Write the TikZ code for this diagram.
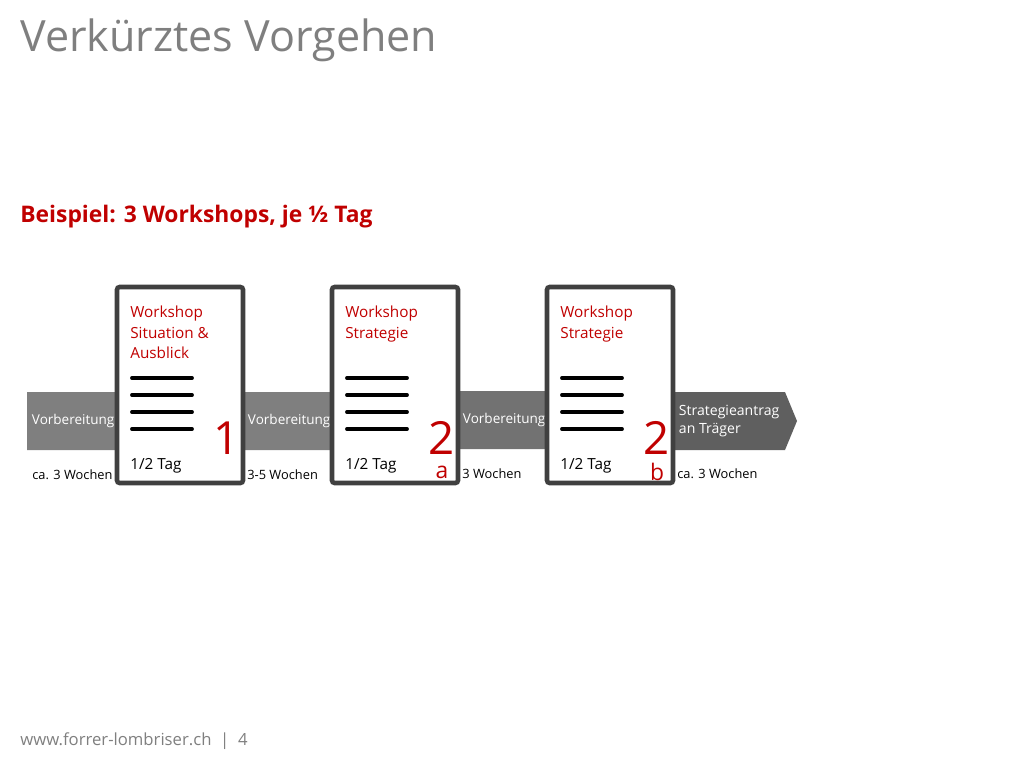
\documentclass[tikz,border=0pt]{standalone}
\usepackage{fontspec}
\setmainfont{Open Sans}
\usepackage{tikz}
\definecolor{fltred}{HTML}{C00000}
\definecolor{fltgray}{HTML}{7F7F7F}
\definecolor{fltdark}{HTML}{404040}
\tikzset{
  chev/.style={fill=#1, draw=none},
  chevtext/.style={text=white, font=\fontsize{7.7}{10}\selectfont, anchor=west, align=left, inner sep=1.5pt},
  wsbox/.style={draw=fltdark, line width=2.6pt, rounded corners=1.5pt, fill=white},
  wstitle/.style={text=fltred, font=\fontsize{8.7}{11.4}\selectfont, anchor=north west, align=left, inner sep=0pt},
  wsnum/.style={text=fltred, font=\fontsize{26}{26}\selectfont, inner sep=0pt},
  wsdur/.style={font=\fontsize{8.7}{10}\selectfont, anchor=west, inner sep=0pt},
  weeks/.style={font=\fontsize{7.3}{9}\selectfont, anchor=west, inner sep=0pt},
  bar/.style={line width=2.2pt, line cap=round}
}
\begin{document}
\begin{tikzpicture}[x=0.02cm, y=-0.02cm]
  \useasboundingbox (0,0) rectangle (1024,768);
  \node[anchor=west, text=fltgray, font=\fontsize{24.5}{28}\selectfont, inner sep=0pt] (title) at (20,40) {Verkürztes Vorgehen};
  \node[anchor=west, text=fltred, font=\bfseries\fontsize{13}{15}\selectfont, inner sep=0pt] (sub) at (20,217) {Beispiel: 3 Workshops, je ½ Tag};

  % chevrons
  \fill[chev=fltgray] (27,392) -- (117,392) -- (128,421) -- (117,450) -- (27,450) -- cycle;
  \fill[chev=fltgray] (243,392) -- (333,392) -- (344,421) -- (333,450) -- (243,450) -- cycle;
  \fill[chev=fltgray!90!black] (458,391) -- (548,391) -- (559,420) -- (548,449) -- (458,449) -- cycle;
  \fill[chev=fltgray!75!black] (673,392) -- (785,392) -- (797,421) -- (785,450) -- (673,450) -- cycle;
  \node[chevtext] (v1) at (29,421) {Vorbereitung};
  \node[chevtext] (v2) at (245,421) {Vorbereitung};
  \node[chevtext] (v3) at (460,420) {Vorbereitung};
  \node[chevtext, font=\fontsize{8}{10.5}\selectfont] (v4) at (676,421) {Strategieantrag\\an Träger};

  % workshops
  \foreach \x/\t/\n/\s [count=\i] in {117/{Workshop\\Situation \&\\Ausblick}/1/{}, 332/{Workshop\\Strategie}/2/a, 547/{Workshop\\Strategie}/2/b} {
    \draw[wsbox] (\x,287) rectangle ++(126,196);
    \node[wstitle] (ws\i) at (\x+13,306) {\t};
    \foreach \y in {378,395,412,429}
      \draw[bar] (\x+15,\y) -- ++(60,0);
    \node[wsnum] (n\i) at (\x+110,438) {\n};
    \node[text=fltred, font=\fontsize{13}{13}\selectfont, inner sep=0pt] (s\i) at (\x+110,472) {\s};
    \node[wsdur] (d\i) at (\x+13,466) {1/2 Tag};
  }

  \node[weeks] (w1) at (32,475) {ca. 3 Wochen};
  \node[weeks] (w2) at (247,475) {3-5 Wochen};
  \node[weeks] (w3) at (462,474) {3 Wochen};
  \node[weeks] (w4) at (677,474) {ca. 3 Wochen};

  \node[anchor=west, text=fltgray, font=\fontsize{9.5}{11}\selectfont, inner sep=0pt] (foot) at (20,741) {www.forrer-lombriser.ch \ | \ 4};
\end{tikzpicture}
\end{document}
